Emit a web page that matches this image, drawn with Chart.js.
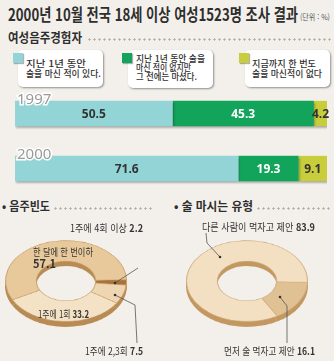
<!DOCTYPE html>
<html lang="ko">
<head>
<meta charset="utf-8">
<script src="https://cdn.jsdelivr.net/npm/chart.js@4.4.0/dist/chart.umd.min.js"></script>
<style>
body { margin: 0; background: #f3f0eb; font-family: "Noto Sans CJK KR", "Noto Sans", sans-serif; color: #3a3a3a; }
#wrap { position: relative; width: 334px; height: 361px; overflow: hidden; background: #f3f0eb; }
.t { position: absolute; white-space: nowrap; line-height: 1; transform-origin: 0 0; }
.b { font-weight: bold; }
.dots { position: absolute; height: 3px; background: radial-gradient(circle, #b3ada5 0.9px, transparent 1.3px) 0 0 / 5px 3px repeat-x; }
.box { position: absolute; background: #fff; border-radius: 5px; box-shadow: 1px 1px 2px rgba(0,0,0,0.4); }
.sq { position: absolute; width: 10px; height: 10px; box-shadow: 1px 1px 1px rgba(0,0,0,0.3); }
.lg { font-size: 9px; color: #2f2f2f; font-weight: 500; }
.pl { font-size: 10px; color: #333; }
canvas.pie { position: absolute; transform: scaleY(0.67); transform-origin: 50% 50%; }
svg { position: absolute; left: 0; top: 0; }
</style>
</head>
<body>
<div id="wrap">
  <div class="t b" data-w="290" style="left:8px;top:5px;font-size:17px;color:#2e2e2e">2000년 10월 전국 18세 이상 여성1523명 조사 결과</div>
  <div class="t" data-w="30" style="left:300px;top:13px;font-size:8px;color:#555">(단위 : %)</div>

  <div class="t b" data-w="74" style="left:8px;top:30px;font-size:13px;color:#2e2e2e">여성음주경험자</div>
  <div class="dots" style="left:87px;top:38px;width:244px"></div>

  <div class="box" style="left:18px;top:50px;width:85px;height:37px"></div>
  <div class="box" style="left:128px;top:50px;width:85px;height:38px"></div>
  <div class="box" style="left:245px;top:50px;width:85px;height:37px"></div>
  <div class="sq" id="sq0" style="left:13px;top:53px"></div>
  <div class="sq" id="sq1" style="left:122px;top:53px"></div>
  <div class="sq" id="sq2" style="left:239px;top:53px"></div>
  <div class="t lg" data-w="60" style="left:26px;top:59px">지난 1년 동안</div>
  <div class="t lg" data-w="75" style="left:26px;top:69px">술을 마신 적이 있다.</div>
  <div class="t lg" data-w="69" style="left:136px;top:54px">지난 1년 동안 술을</div>
  <div class="t lg" data-w="55" style="left:136px;top:63px">마신 적이 없지만</div>
  <div class="t lg" data-w="61" style="left:136px;top:72px">그 전에는 마셨다.</div>
  <div class="t lg" data-w="64" style="left:252px;top:59px">지금까지 한 번도</div>
  <div class="t lg" data-w="70" style="left:252px;top:69px">술을 마신적이 없다</div>

  <canvas id="bars" width="334" height="110" style="position:absolute;left:0;top:86px"></canvas>

  <div class="t b" data-w="48" style="left:2px;top:200px;font-size:12px;color:#2e2e2e">• 음주빈도</div>
  <div class="dots" style="left:53px;top:207px;width:100px"></div>
  <div class="t b" data-w="79" style="left:174px;top:200px;font-size:12px;color:#2e2e2e">• 술 마시는 유형</div>
  <div class="dots" style="left:256px;top:207px;width:75px"></div>

  <canvas class="pie" id="freqSide" width="122" height="122" style="left:5px;top:225px"></canvas>
  <canvas class="pie" id="freqTop" width="122" height="122" style="left:5px;top:220px"></canvas>
  <canvas class="pie" id="typeSide" width="122" height="122" style="left:186px;top:225px"></canvas>
  <canvas class="pie" id="typeTop" width="122" height="122" style="left:186px;top:220px"></canvas>

  <svg width="334" height="361">
    <g stroke="#555" stroke-width="0.8" fill="none">
      <polyline points="115,283 138,268"/>
      <polyline points="115,295 135,305 137,343"/>
      <polyline points="220,257 207,243 206,233"/>
      <polyline points="280,297 287,306 287,343"/>
    </g>
    <g fill="#333">
      <circle cx="115" cy="283" r="1.3"/>
      <circle cx="115" cy="295" r="1.3"/>
      <circle cx="220" cy="257" r="1.3"/>
      <circle cx="280" cy="297" r="1.3"/>
    </g>
  </svg>
  <div id="pieLabels"></div>
</div>

<script>
// bar chart data
const years = ['1997', '2000'];
const drankLastYear = [50.5, 71.6];
const drankBefore = [45.3, 19.3];
const neverDrank = [4.2, 9.1];
const barColors = ['#93d4d7', '#12a45a', '#c8ce3b'];
const barTextColors = ['#333', '#fff', '#333'];

// doughnut data
const freqLabels = ['1주에 4회 이상', '1주에 2,3회', '1주에 1회', '한 달에 한 번이하'];
const freqValues = [2.2, 7.5, 33.2, 57.1];
const freqColors = ['#a8723a', '#eed6b2', '#f4e2c6', '#e8c99c'];
const typeLabels = ['먼저 술 먹자고 제안', '다른 사람이 먹자고 제안'];
const typeValues = [16.1, 83.9];
const typeColors = ['#e0c194', '#f3dfc1'];

// where the labels of the doughnuts sit
const freqLabelPos = [
  { left: 70, top: 223, w: 73 },
  { left: 85, top: 346, w: 58 },
  { left: 38, top: 309, w: 51 },
  { left: 33, top: 247, w: 60, twoLines: true }
];
const typeLabelPos = [
  { left: 224, top: 346, w: 91 },
  { left: 202, top: 222, w: 113 }
];

barColors.forEach((c, i) => {
  document.getElementById('sq' + i).style.background = c;
});

function addPieLabels(labels, values, pos) {
  const holder = document.getElementById('pieLabels');
  labels.forEach((label, i) => {
    const p = pos[i];
    if (p.twoLines) {
      holder.insertAdjacentHTML('beforeend',
        `<div class="t pl" data-w="${p.w}" style="left:${p.left}px;top:${p.top}px">${label}</div>` +
        `<div class="t pl b" style="left:${p.left}px;top:${p.top + 11}px;font-size:11px">${values[i]}</div>`);
    } else {
      holder.insertAdjacentHTML('beforeend',
        `<div class="t pl" data-w="${p.w}" style="left:${p.left}px;top:${p.top}px">${label} <b>${values[i]}</b></div>`);
    }
  });
}
addPieLabels(freqLabels, freqValues, freqLabelPos);
addPieLabels(typeLabels, typeValues, typeLabelPos);

// squeeze texts to the widths they have in the picture
document.querySelectorAll('[data-w]').forEach((el) => {
  const w = el.getBoundingClientRect().width;
  const target = +el.getAttribute('data-w');
  el.style.transform = `scaleX(${target / w})`;
});

const barShadow = {
  id: 'barShadow',
  beforeDatasetsDraw(chart) {
    const ctx = chart.ctx;
    ctx.save();
    ctx.shadowColor = 'rgba(0,0,0,0.28)';
    ctx.shadowOffsetY = 2;
    ctx.shadowOffsetX = 1;
    ctx.shadowBlur = 2;
  },
  afterDatasetsDraw(chart) {
    chart.ctx.restore();
  }
};

const barLabels = {
  id: 'barLabels',
  afterDraw(chart) {
    const ctx = chart.ctx;
    ctx.save();
    ctx.textAlign = 'center';
    ctx.textBaseline = 'middle';
    ctx.font = 'bold 12px "Noto Sans", sans-serif';
    chart.data.datasets.forEach((ds, i) => {
      chart.getDatasetMeta(i).data.forEach((bar, j) => {
        ctx.fillStyle = barTextColors[i];
        ctx.fillText(ds.data[j], (bar.x + bar.base) / 2, bar.y + 1);
      });
    });
    // year labels on top of each bar
    ctx.textAlign = 'left';
    ctx.textBaseline = 'alphabetic';
    ctx.font = '15px "Noto Sans", sans-serif';
    ctx.lineWidth = 3;
    ctx.strokeStyle = '#fff';
    ctx.fillStyle = '#9a9a9a';
    chart.getDatasetMeta(0).data.forEach((bar, j) => {
      const x = chart.chartArea.left + 2;
      const y = bar.y - bar.height / 2 + 3;
      ctx.strokeText(years[j], x, y);
      ctx.fillText(years[j], x, y);
    });
    ctx.restore();
  }
};

new Chart(document.getElementById('bars'), {
  type: 'bar',
  data: {
    labels: years,
    datasets: [
      { data: drankLastYear, backgroundColor: barColors[0] },
      { data: drankBefore, backgroundColor: barColors[1] },
      { data: neverDrank, backgroundColor: barColors[2] }
    ]
  },
  options: {
    indexAxis: 'y',
    responsive: false,
    animation: false,
    devicePixelRatio: 1,
    layout: { padding: { left: 15, right: 7, top: 0, bottom: 0 } },
    datasets: { bar: { categoryPercentage: 1, barPercentage: 0.46, borderWidth: 0 } },
    plugins: { legend: { display: false }, tooltip: { enabled: false } },
    scales: {
      x: { stacked: true, min: 0, max: 100, display: false },
      y: { stacked: true, display: false }
    }
  },
  plugins: [barShadow, barLabels]
});

function renderDoughnut(id, values, colors, rotation, border) {
  new Chart(document.getElementById(id), {
    type: 'doughnut',
    data: {
      datasets: [{
        data: values,
        backgroundColor: colors,
        borderColor: border,
        borderWidth: border ? 1 : 0
      }]
    },
    options: {
      responsive: false,
      animation: false,
      devicePixelRatio: 1,
      cutout: '49%',
      rotation: rotation,
      plugins: { legend: { display: false }, tooltip: { enabled: false } }
    }
  });
}

renderDoughnut('freqSide', freqValues, freqValues.map(() => '#b88a54'), 88, null);
renderDoughnut('freqTop', freqValues, freqColors, 88, '#c9a26d');
renderDoughnut('typeSide', typeValues, typeValues.map(() => '#c39760'), 92, null);
renderDoughnut('typeTop', typeValues, typeColors, 92, '#cfae80');
</script>
</body>
</html>
